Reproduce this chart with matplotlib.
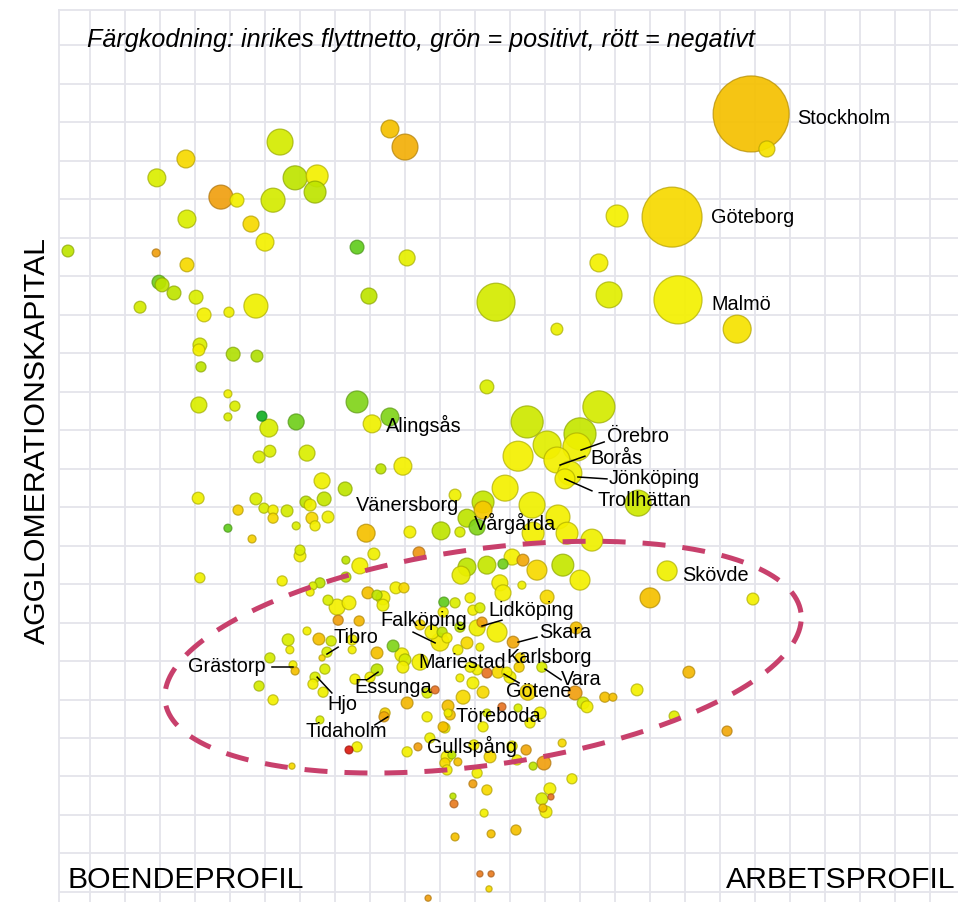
import numpy as np
import matplotlib
matplotlib.use('Agg')
import matplotlib.pyplot as plt
from matplotlib.colors import LinearSegmentedColormap, to_rgba

plt.rcParams['font.family'] = ['Liberation Sans', 'DejaVu Sans']

# ---------------- data ----------------
# x: arbetsprofil index, y: agglomerationskapital index,
# befolkning (tusental), flyttnetto (relativt, -1..1)
arbetsprofil = [
    -6.3, 18.9, 19.1, 27.4, 37.4, 42.0, 27.7, 46.0, 50.0, 54.3,
    52.3, 58.6, 64.9, 64.3, 27.7, 19.7, 20.6, 24.0, 30.3, 14.3,
    32.6, 39.7, 47.4, 85.7, 90.0, 76.3, 90.6, 79.7, 188.9, 193.4,
    166.3, 150.6, 145.4, 116.0, 148.3, 168.0, 133.4, 184.9, 31.4, 31.1,
    40.9, 47.7, 31.7, 39.4, 31.1, 41.4, 39.4, 49.1, 51.1, 58.9,
    76.3, 85.7, 80.6, 113.4, 51.4, 48.3, 62.0, 83.1, 89.4, 66.3,
    72.9, 30.9, 47.4, 42.3, 49.7, 52.3, 52.3, 56.3, 61.7, 62.9,
    66.9, 63.4, 64.3, 68.0, 39.4, 58.9, 46.3, 78.9, 91.4, 100.3,
    105.7, 104.3, 60.0, 60.0, 73.1, 77.1, 81.1, 94.0, 31.4, 54.9,
    73.1, 145.4, 124.9, 140.0, 139.1, 130.6, 122.3, 133.4, 137.1, 135.7,
    118.6, 126.3, 156.6, 112.3, 112.3, 107.7, 110.6, 133.7, 136.3, 126.6,
    143.4, 120.6, 123.7, 118.0, 113.4, 107.7, 127.7, 135.1, 140.0, 117.1,
    123.4, 118.0, 130.6, 106.0, 160.0, 189.4, 164.9, 63.7, 62.9, 65.7,
    68.0, 70.6, 74.0, 70.9, 76.9, 79.4, 82.0, 83.7, 83.7, 87.4,
    89.7, 101.1, 100.9, 97.7, 100.0, 100.6, 94.3, 62.0, 56.6, 57.1,
    65.4, 68.9, 67.7, 66.3, 74.9, 74.9, 82.0, 86.6, 89.1, 90.0,
    89.4, 94.3, 58.0, 58.6, 67.1, 64.3, 63.7, 66.6, 75.7, 82.0,
    80.0, 96.3, 98.6, 90.6, 102.3, 102.9, 96.3, 65.7, 84.3, 84.0,
    101.4, 97.1, 74.0, 76.3, 90.6, 93.7, 51.4, 48.3, 52.3, 57.7,
    108.6, 104.3, 109.4, 111.4, 112.0, 110.6, 116.3, 105.7, 102.0, 107.7,
    120.9, 105.1, 111.4, 122.9, 122.6, 113.4, 110.6, 108.6, 105.7, 119.1,
    120.0, 129.1, 109.4, 112.3, 106.6, 117.7, 122.3, 125.1, 138.6, 140.9,
    142.0, 116.6, 147.1, 149.4, 125.7, 128.6, 102.3, 113.4, 134.9, 124.6,
    100.9, 112.3, 138.9, 171.1, 156.3, 166.9, 182.0, 102.0, 101.4, 102.0,
    103.4, 105.1, 110.6, 114.3, 109.7, 109.4, 113.4, 103.7, 104.0, 112.6,
    104.3, 114.6, 121.7, 111.4, 114.6, 114.0, 96.6, 129.7, 126.6, 137.7,
    131.4, 129.1, 131.7, 129.4, 130.3, 122.0, 120.6,
]
agglomeration = [
    166.5, 166.0, 185.5, 190.4, 180.5, 179.7, 174.8, 173.5, 168.8, 194.8,
    179.7, 185.5, 186.0, 181.8, 162.9, 158.4, 157.7, 155.6, 154.5, 151.9,
    149.9, 150.6, 152.2, 198.2, 193.5, 167.5, 164.7, 154.8, 202.1, 193.0,
    175.3, 175.6, 163.4, 153.2, 155.1, 153.8, 146.2, 146.2, 142.1, 140.8,
    139.7, 139.2, 136.4, 129.4, 126.5, 126.2, 123.4, 123.6, 120.5, 122.1,
    127.3, 123.4, 121.6, 131.2, 114.5, 113.0, 114.0, 109.9, 110.6, 106.8,
    104.7, 102.3, 102.1, 99.2, 99.7, 99.2, 97.1, 99.0, 101.3, 100.5,
    102.1, 97.1, 95.1, 97.4, 94.5, 95.1, 91.7, 93.2, 93.5, 93.8,
    93.5, 103.1, 88.8, 87.3, 86.2, 84.7, 87.8, 88.1, 81.6, 80.8,
    81.8, 126.0, 122.1, 119.0, 115.6, 116.1, 113.2, 112.2, 108.8, 107.3,
    104.9, 100.5, 101.0, 101.3, 99.2, 97.1, 94.8, 97.4, 93.2, 93.2,
    91.4, 87.0, 86.2, 85.2, 84.9, 84.4, 83.6, 84.9, 81.0, 80.3,
    79.7, 77.7, 76.6, 82.3, 76.4, 76.1, 83.4, 79.5, 77.9, 80.3,
    75.8, 74.0, 75.1, 70.6, 70.4, 77.7, 77.1, 76.4, 74.5, 79.0,
    79.0, 75.3, 72.7, 67.5, 64.9, 67.5, 69.4, 67.8, 65.5, 62.9,
    65.7, 65.2, 62.3, 60.8, 65.5, 62.9, 62.1, 63.9, 61.6, 60.3,
    58.4, 59.7, 59.0, 57.4, 57.9, 55.8, 54.0, 51.9, 55.3, 57.7,
    55.8, 51.7, 52.5, 49.1, 48.3, 46.0, 45.5, 44.7, 46.5, 45.5,
    42.6, 40.0, 36.9, 37.7, 36.4, 37.7, 60.8, 53.5, 49.9, 32.7,
    76.4, 75.1, 73.2, 73.8, 70.1, 68.6, 67.5, 68.8, 66.0, 64.7,
    64.9, 62.9, 63.6, 60.8, 58.4, 56.9, 57.7, 58.4, 55.6, 57.1,
    55.8, 58.4, 54.3, 51.9, 50.6, 48.1, 47.8, 51.9, 51.7, 49.1,
    48.1, 57.1, 50.6, 50.6, 43.9, 46.5, 46.5, 46.5, 38.7, 36.9,
    42.9, 42.9, 68.6, 57.1, 52.5, 45.7, 41.8, 35.1, 33.5, 31.7,
    35.6, 33.8, 30.9, 35.1, 38.2, 28.1, 26.5, 24.9, 22.9, 20.5,
    14.3, 15.1, 16.1, 4.7, 4.7, 0.8, -1.6, 33.5, 32.7, 29.4,
    26.8, 24.2, 24.7, 21.8, 20.8, 34.3, 37.9,
]
befolkning = [
    22, 10, 50, 50, 90, 30, 50, 40, 50, 105,
    90, 90, 75, 75, 30, 30, 30, 30, 30, 22,
    30, 16, 90, 50, 105, 30, 40, 40, 900, 40,
    560, 75, 50, 225, 105, 360, 22, 122, 30, 22,
    30, 22, 16, 10, 40, 16, 10, 16, 50, 40,
    75, 50, 50, 30, 22, 22, 40, 16, 50, 40,
    30, 22, 22, 16, 16, 16, 16, 22, 22, 22,
    30, 22, 16, 22, 10, 10, 10, 50, 22, 50,
    16, 22, 16, 22, 10, 40, 22, 22, 16, 16,
    16, 160, 160, 160, 122, 122, 140, 105, 90, 62,
    105, 105, 105, 75, 50, 50, 40, 90, 75, 75,
    75, 40, 22, 16, 50, 50, 62, 75, 62, 40,
    10, 40, 30, 50, 62, 22, 62, 10, 10, 16,
    16, 40, 30, 16, 16, 22, 16, 30, 22, 22,
    16, 16, 16, 30, 50, 16, 16, 10, 22, 10,
    22, 16, 16, 6, 16, 10, 22, 22, 30, 22,
    22, 40, 10, 10, 16, 16, 16, 16, 16, 22,
    16, 16, 10, 22, 22, 16, 16, 10, 16, 16,
    16, 16, 10, 16, 16, 10, 16, 16, 16, 6,
    16, 16, 16, 16, 16, 40, 62, 16, 16, 22,
    22, 16, 10, 16, 16, 16, 16, 16, 10, 16,
    22, 16, 22, 22, 30, 10, 10, 40, 30, 22,
    22, 22, 16, 10, 16, 22, 10, 10, 10, 16,
    16, 16, 22, 22, 22, 16, 16, 22, 16, 16,
    10, 10, 16, 22, 16, 10, 16, 6, 10, 10,
    10, 10, 16, 6, 6, 6, 6, 30, 10, 16,
    22, 22, 6, 10, 22, 16, 16,
]
flyttnetto = [
    0.45, -0.5, 0.25, -0.15, -0.5, 0, 0.25, -0.15, 0, 0.3,
    0.3, 0.45, 0, 0.45, -0.15, 0.75, 0.45, 0.45, 0.25, 0.3,
    0, 0.05, 0.05, -0.3, -0.4, 0.8, 0.15, 0.45, -0.3, -0.1,
    -0.15, 0, 0, 0.3, 0.2, 0, 0.1, -0.1, 0.25, 0,
    0.5, 0.5, 0.45, 0.05, 0.25, 0.25, 0.25, 1.0, 0.25, 0.75,
    0.7, 0.7, 0.05, 0.25, 0.25, 0.25, 0.25, 0.45, 0, 0.05,
    0.45, 0.05, 0.25, -0.2, 0.25, 0, -0.15, 0.3, 0.45, 0.05,
    0.4, -0.15, 0, 0.05, 0.8, 0.25, -0.2, -0.3, 0, 0.45,
    0.25, 0.05, 0.25, 0, 0.45, 0, 0.05, -0.55, 0.05, 0,
    0.45, 0.3, 0.35, 0.4, 0.05, 0.2, 0, 0, 0.05, 0,
    0, 0.05, 0.35, 0.4, -0.25, 0.45, 0.7, 0, 0, 0,
    0.05, 0, -0.45, 0.75, 0.4, 0.45, -0.15, 0.4, 0, 0,
    0.05, 0, -0.15, 0.1, -0.3, 0, 0.05, 0.25, 0, 0.45,
    0.25, 0, 0, -0.5, -0.35, -0.3, 0.45, 0, 0.05, 0,
    -0.15, 0.8, 0, 0, -0.05, 0.45, -0.15, 0, 0.25, 0,
    -0.3, 0.3, 0.25, -0.15, 0, 0, -0.3, 0.7, 0, 0.3,
    0, 0, 0, -0.3, 0.25, 0.25, 0, 0.05, 0, 0.45,
    0, 0.25, -0.75, -0.35, -0.3, -0.3, 0, 0.25, -0.2, -0.45,
    0, 0.05, -1.0, 0, 0, -0.5, 0.3, 0.3, 0, -0.15,
    0, 0.25, 0, 0.25, -0.5, 0.05, 0, 0.45, 0, -0.15,
    -0.45, 0, 0, -0.15, -0.2, -0.75, 0, 0.05, 0, 0,
    0, 0.25, 0, -0.15, -0.15, -0.75, 0.25, -0.15, -0.5, 0.3,
    0, -0.15, -0.3, -0.3, 0, 0, 0, 0.25, -0.15, -0.45,
    -0.3, 0, -0.3, -0.35, 0, 0.2, -0.45, 0, -0.15, 0,
    0.45, -0.3, 0, -0.15, 0, -0.5, -0.15, 0.45, -0.7, 0,
    -0.3, -0.3, -0.3, -0.7, -0.7, -0.15, -0.5, -0.5, 0.45, 0,
    0, 0.25, -0.75, -0.3, 0, 0, 0,
]
assert len(arbetsprofil) == len(agglomeration) == len(befolkning) == len(flyttnetto)

# named municipalities (label anchor = text left edge)
etiketter = ["Stockholm", "Göteborg", "Malmö", "Alingsås", "Örebro", "Borås",
             "Jönköping", "Trollhättan", "Vänersborg", "Vårgårda", "Skövde",
             "Lidköping", "Falköping", "Skara", "Tibro", "Karlsborg", "Mariestad",
             "Grästorp", "Vara", "Essunga", "Götene", "Hjo", "Töreboda",
             "Tidaholm", "Gullspång"]
etikett_x = [202.0, 177.4, 177.4, 84.6, 147.7, 143.1, 148.3, 144.9, 76.0, 109.7,
             169.1, 113.7, 83.1, 128.3, 69.7, 119.1, 93.7, 28.0, 134.6, 75.4,
             118.9, 67.7, 104.3, 61.7, 96.3]
etikett_y = [200.8, 175.3, 152.7, 121.3, 118.4, 112.5, 107.3, 101.6, 100.3, 95.6,
             82.3, 73.2, 70.4, 67.3, 66.0, 61.0, 59.7, 58.7, 55.3, 53.2,
             52.2, 48.6, 45.5, 41.6, 37.9]
# leader lines: (x0, y0, x1, y1)
ledare = [
    (140.3, 114.8, 146.9, 116.9),   # Örebro
    (134.3, 110.9, 141.4, 113.2),   # Borås
    (139.4, 107.8, 147.7, 107.3),   # Jönköping
    (135.7, 107.3, 143.4, 104.2),   # Trollhättan
    (112.0, 69.1, 117.7, 70.6),     # Lidköping
    (122.3, 64.9, 127.7, 66.2),     # Skara
    (130.0, 57.9, 134.6, 55.1),     # Vara
    (118.3, 56.6, 122.6, 54.3),     # Götene
    (92.3, 67.5, 98.6, 64.7),       # Falköping
    (67.7, 61.8, 70.9, 63.6),       # Tibro
    (52.0, 58.4, 58.0, 58.4),       # Grästorp
    (64.9, 55.8, 69.1, 51.7),       # Hjo
    (79.1, 55.1, 82.3, 57.1),       # Essunga
    (81.4, 43.4, 85.1, 45.5),       # Tidaholm
]

# ---------------- figure ----------------
W, H = 958, 902
fig = plt.figure(figsize=(W / 100, H / 100), dpi=100)
ax = fig.add_axes([59 / W, 0, (W - 59) / W, (H - 10) / H])
ax.set_xlim(-8.86, 248.0)
ax.set_ylim(-2.6, 229.1)
ax.set_xticks(np.arange(0, 241, 10))
ax.set_yticks(np.arange(0, 221, 10))
ax.tick_params(length=0, labelbottom=False, labelleft=False)
ax.grid(True, color='#e4e4eb', lw=1.3)
ax.set_axisbelow(True)
for s in ['bottom', 'right']:
    ax.spines[s].set_visible(False)
for s in ['left', 'top']:
    ax.spines[s].set_color('#e4e4eb')
    ax.spines[s].set_linewidth(1.3)

nodes = [(-1.0, '#dc1c10'), (-0.75, '#e67424'), (-0.5, '#f0a010'), (-0.3, '#f5c000'),
         (-0.15, '#f7da00'), (0.0, '#f4f000'), (0.25, '#dcee00'), (0.45, '#bee400'),
         (0.7, '#82d41a'), (0.85, '#54c820'), (1.0, '#14b024')]
cmap = LinearSegmentedColormap.from_list('flytt', [((v + 1) / 2, c) for v, c in nodes])

x = np.array(arbetsprofil)
y = np.array(agglomeration)
pop = np.array(befolkning, dtype=float)
net = np.array(flyttnetto)
order = np.argsort(-pop, kind='stable')
fills = cmap((net[order] + 1) / 2)
fills[:, 3] = 0.92
edges = fills.copy()
edges[:, :3] *= 0.72
edges[:, 3] = 0.7
ax.scatter(x[order], y[order], s=pop[order] * 3.33, c=fills, edgecolors=edges,
           linewidths=0.9, zorder=3)

# ellipse (dashed)
PXX, PXY = 3.5, 3.85          # pixels per data unit
cx, cy, a_px, b_px, th = 112.3, 61.0, 321, 108, np.deg2rad(8)
t = np.linspace(0, 2 * np.pi, 400)
u, v = a_px * np.cos(t), b_px * np.sin(t)
ex = cx + (u * np.cos(th) - v * np.sin(th)) / PXX
ey = cy + (u * np.sin(th) + v * np.cos(th)) / PXY
ax.plot(ex, ey, color='#c8406c', lw=3.6, dashes=(4.6, 3.4), zorder=4,
        solid_capstyle='butt', dash_capstyle='butt')

for (x0, y0, x1, y1) in ledare:
    ax.plot([x0, x1], [y0, y1], color='black', lw=1.1, zorder=5)
for name, lx, ly in zip(etiketter, etikett_x, etikett_y):
    ax.text(lx, ly, name, fontsize=14.3, ha='left', va='center', zorder=6)

ax.text(-0.86, 221.3, 'Färgkodning: inrikes flyttnetto, grön = positivt, rött = negativt',
        fontsize=18.1, style='italic', ha='left', va='center', zorder=6)
ax.text(-6.3, 3.1, 'BOENDEPROFIL', fontsize=21.7, ha='left', va='center', zorder=6)
ax.text(247.4, 3.1, 'ARBETSPROFIL', fontsize=21.7, ha='right', va='center', zorder=6)
fig.text(37 / W, 1 - 441 / H, 'AGGLOMERATIONSKAPITAL', fontsize=21.8, rotation=90,
         ha='center', va='center')

fig.savefig('out.png', dpi=100)
